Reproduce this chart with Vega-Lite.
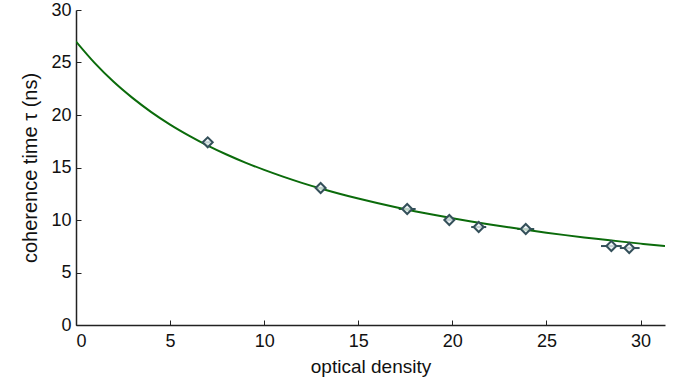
{
  "$schema": "https://vega.github.io/schema/vega-lite/v6.json",
  "autosize": "none",
  "width": 589,
  "height": 315,
  "padding": {"left": 76, "top": 10, "right": 12, "bottom": 65},
  "background": "white",
  "config": {
    "view": {"stroke": null},
    "font": "Liberation Sans",
    "axis": {
      "domainColor": "#222222",
      "domainWidth": 1.5,
      "tickColor": "#222222",
      "tickWidth": 1,
      "grid": false,
      "labelFont": "Liberation Sans",
      "titleFont": "Liberation Sans",
      "labelFontSize": 18,
      "titleFontSize": 19,
      "titleFontWeight": "normal",
      "labelColor": "#111111",
      "titleColor": "#111111"
    }
  },
  "datasets": {
    "curve": [
      {"od": 0, "tau": 27.0}, {"od": 1, "tau": 24.94}, {"od": 2, "tau": 23.16}, {"od": 3, "tau": 21.63},
      {"od": 4, "tau": 20.28}, {"od": 5, "tau": 19.09}, {"od": 6, "tau": 18.04}, {"od": 7, "tau": 17.09},
      {"od": 8, "tau": 16.24}, {"od": 9, "tau": 15.47}, {"od": 10, "tau": 14.77}, {"od": 11, "tau": 14.13},
      {"od": 12, "tau": 13.54}, {"od": 13, "tau": 13.0}, {"od": 14, "tau": 12.5}, {"od": 15, "tau": 12.04},
      {"od": 16, "tau": 11.61}, {"od": 17, "tau": 11.21}, {"od": 18, "tau": 10.84}, {"od": 19, "tau": 10.49},
      {"od": 20, "tau": 10.17}, {"od": 21, "tau": 9.86}, {"od": 22, "tau": 9.57}, {"od": 23, "tau": 9.3},
      {"od": 24, "tau": 9.04}, {"od": 25, "tau": 8.79}, {"od": 26, "tau": 8.56}, {"od": 27, "tau": 8.34},
      {"od": 28, "tau": 8.14}, {"od": 29, "tau": 7.94}, {"od": 30, "tau": 7.75}, {"od": 31, "tau": 7.57},
      {"od": 31.3, "tau": 7.52}
    ],
    "points": [
      {"od": 7.0, "tau": 17.4, "odlo": 6.85, "odhi": 7.15},
      {"od": 13.0, "tau": 13.05, "odlo": 12.8, "odhi": 13.2},
      {"od": 17.6, "tau": 11.05, "odlo": 17.15, "odhi": 18.05},
      {"od": 19.84, "tau": 10.0, "odlo": 19.6, "odhi": 20.1},
      {"od": 21.4, "tau": 9.33, "odlo": 21.0, "odhi": 21.8},
      {"od": 23.9, "tau": 9.14, "odlo": 23.45, "odhi": 24.35},
      {"od": 28.45, "tau": 7.52, "odlo": 27.9, "odhi": 29.0},
      {"od": 29.4, "tau": 7.33, "odlo": 28.9, "odhi": 29.95}
    ]
  },
  "layer": [
    {
      "data": {"name": "points"},
      "mark": {"type": "rule", "color": "#34505a", "strokeWidth": 2},
      "encoding": {
        "x": {"field": "odlo", "type": "quantitative"},
        "x2": {"field": "odhi"},
        "y": {"field": "tau", "type": "quantitative"}
      }
    },
    {
      "data": {"name": "curve"},
      "mark": {"type": "line", "color": "#0b6b0b", "strokeWidth": 2, "interpolate": "monotone", "clip": true},
      "encoding": {
        "x": {"field": "od", "type": "quantitative",
          "scale": {"domain": [0, 31.3], "nice": false},
          "axis": {"values": [0, 5, 10, 15, 20, 25, 30], "tickSize": -5, "labelPadding": 12, "title": "optical density", "titlePadding": 7}},
        "y": {"field": "tau", "type": "quantitative",
          "scale": {"domain": [0, 30], "nice": false},
          "axis": {"values": [0, 5, 10, 15, 20, 25, 30], "tickSize": -5, "labelPadding": 10, "title": "coherence time τ (ns)", "titleFontSize": 20, "titlePadding": 10}}
      }
    },
    {
      "data": {"name": "points"},
      "mark": {"type": "point", "shape": "diamond", "filled": false, "stroke": "#34505a", "fill": "#e8f0f2", "fillOpacity": 0.8, "strokeWidth": 2, "size": 100},
      "encoding": {
        "x": {"field": "od", "type": "quantitative"},
        "y": {"field": "tau", "type": "quantitative"}
      }
    }
  ]
}
